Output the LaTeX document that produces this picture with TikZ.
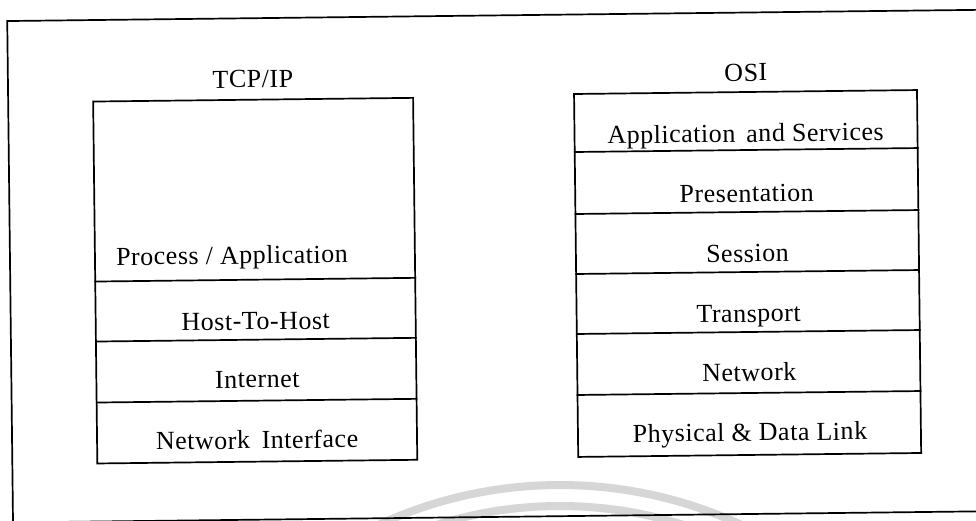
\documentclass[tikz,border=0pt]{standalone}
\usepackage{fontspec}
\setmainfont{Liberation Serif}
\newfontfamily\layerfont[LetterSpace=2]{Liberation Serif}
\begin{document}
\begin{tikzpicture}[x=1pt,y=-1pt,
  rule/.style={line width=1.7pt, line cap=rect, draw=black},
  lbl/.style={font=\layerfont\fontsize{26}{31}\selectfont, anchor=base,
              inner sep=0pt, transform shape},
  swoosh/.style={draw=black!16, line width=8pt}]
  % page
  \clip (0,0) rectangle (976,520);
  \fill[white] (0,0) rectangle (976,520);
  % faint printed watermark rings
  \draw[swoosh] (560,916) circle[radius=431pt];
  \draw[swoosh] (560,916) circle[radius=410pt];

  \begin{scope}[rotate around={0.66:(488,260)}]
    % outer frame
    \draw[rule] (10,15.5) rectangle (1010,517);

    % TCP/IP stack
    \coordinate (tcpTL) at (95,97);
    \coordinate (tcpBR) at (415,459);
    \draw[rule] (tcpTL) rectangle (tcpBR);
    \foreach \yy in {277,337,398}
      \draw[rule] (95,\yy) -- (415,\yy);
    \node[lbl] (tcpTitle) at (255,85) {TCP/IP};
    \node[lbl, anchor=base west] (tcpApp) at (116,261) {Process / Application};
    \node[lbl] (tcpHost) at (255,327) {Host-To-Host};
    \node[lbl] (tcpNet) at (256,385) {Internet};
    \node[lbl] (tcpLink) at (255,446) {Network\hspace{0.45em}Interface};

    % OSI stack
    \coordinate (osiTL) at (576,95);
    \coordinate (osiBR) at (919,458);
    \draw[rule] (osiTL) rectangle (osiBR);
    \foreach \yy in {153,215,275,335,396}
      \draw[rule] (576,\yy) -- (919,\yy);
    \node[lbl] (osiTitle) at (748,84) {OSI};
    \node[lbl] (osiApp) at (747,145) {Application\hspace{0.15em} and Services};
    \node[lbl] (osiPres) at (747.5,205) {Presentation};
    \node[lbl] (osiSess) at (747.5,265) {Session};
    \node[lbl] (osiTrans) at (748,325) {Transport};
    \node[lbl] (osiNet) at (748,384) {Network};
    \node[lbl] (osiPhys) at (748,444) {Physical \& Data Link};
  \end{scope}
\end{tikzpicture}
\end{document}
